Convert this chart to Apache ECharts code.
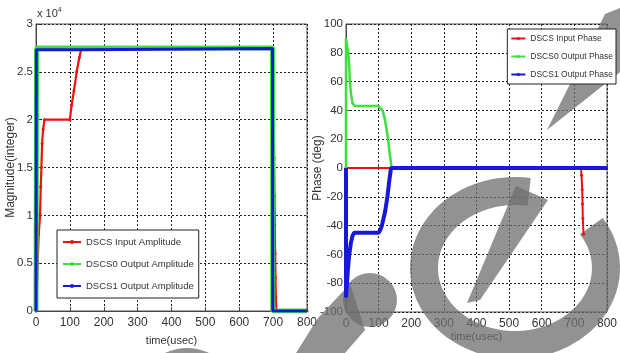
<!DOCTYPE html>
<html><head><meta charset="utf-8">
<script src="https://cdn.jsdelivr.net/npm/echarts@6/dist/echarts.min.js"></script>
<style>html,body{margin:0;padding:0;background:#fff}#c{width:620px;height:353px}</style>
</head><body><div id="c"></div>
<script>
// ---- data (time in usec) ----
const timeTicks = [0, 100, 200, 300, 400, 500, 600, 700, 800];
const ampSeriesNames = ['DSCS Input Amplitude', 'DSCS0 Output Amplitude', 'DSCS1 Output Amplitude'];
const phaseSeriesNames = ['DSCS Input Phase', 'DSCS0 Output Phase', 'DSCS1 Output Phase'];

const inputAmp = [[0,0],[2,1500],[5,5000],[8,8000],[12,10000],[14,13000],[16,15000],[18,17500],[21,19000],[25,20000],[100,20000],[105,21500],[112,23000],[120,25000],[128,26500],[134,27500],[700,27500],[702,19400],[703,16000],[704,12000],[705,9000],[706,6000],[707,3500],[708,1500],[710,0],[800,0]];
const dscs0Amp = [[0,0],[2,27500],[698,27500],[699,0],[800,0]];
const dscs1Amp = [[0,0],[1,27300],[140,27300],[142,27450],[698,27450],[699,0],[800,0]];

const inputPhase = [[0,0],[140,0],[720,0],[722,-5],[724,-15],[725,-25],[726,-35],[728,-46]];
const dscs0Phase = [[0,0],[0,90],[3,85],[7,80],[10,70],[12,60],[15,52],[20,45],[27,43],[100,43],[105,42],[112,40],[118,35],[122,30],[129,20],[134,10],[140,0],[800,0]];
const dscs1Phase = [[0,0],[0,-90],[3,-80],[6,-70],[10,-60],[15,-52],[20,-47],[25,-45],[100,-45],[105,-43],[110,-40],[115,-35],[120,-30],[127,-20],[132,-10],[138,0],[800,0]];

// ---- chart ----
const FF = "'Liberation Sans',Arial,sans-serif";
const RED = '#f01010', GREEN = '#3ee03e', BLUE = '#1818d8';
const WM = 'rgba(110,110,110,0.75)';
const chart = echarts.init(document.getElementById('c'), null, {renderer: 'canvas'});

// watermark ring outline (decorative, pixel space)
const ringPts = [];
for (let a = -33; a <= 280; a += 4) {
  const r = a * Math.PI / 180;
  ringPts.push([515 + 91 * Math.cos(r), 268 + 77 * Math.sin(r)]);
}

function xAxisCfg(gi, gap) {
  return {
    gridIndex: gi, type: 'value', min: 0, max: 800, interval: 100,
    name: 'time(usec)', nameLocation: 'middle', nameGap: gap, nameMoveOverlap: false,
    nameTextStyle: {fontFamily: FF, fontSize: 11, color: '#333'},
    axisLine: {show: true, lineStyle: {color: '#444', width: 1}},
    axisTick: {show: true, inside: true, length: 4, lineStyle: {color: '#444'}},
    axisLabel: {fontFamily: FF, fontSize: 12, color: '#333', margin: 6},
    splitLine: {show: true, lineStyle: {color: '#222', type: [2, 2], width: 1}}
  };
}
function yAxisCfg(gi, min, max, interval, name, gap, fmt) {
  return {
    gridIndex: gi, type: 'value', min: min, max: max, interval: interval,
    name: name, nameLocation: 'middle', nameGap: gap, nameMoveOverlap: false,
    nameTextStyle: {fontFamily: FF, fontSize: 12, color: '#333'},
    axisLine: {show: true, lineStyle: {color: '#444', width: 1}},
    axisTick: {show: true, inside: true, length: 4, lineStyle: {color: '#444'}},
    axisLabel: {fontFamily: FF, fontSize: 11.5, color: '#333', margin: 3, formatter: fmt},
    splitLine: {show: true, lineStyle: {color: '#222', type: [2, 2], width: 1}}
  };
}
const legendCommon = {
  orient: 'vertical', backgroundColor: '#fff', borderColor: '#222', borderWidth: 1,
  textStyle: {fontFamily: FF, color: '#333'}, z: 10
};

chart.setOption({
  animation: false,
  backgroundColor: '#fff',
  grid: [
    {left: 36, top: 24, width: 271, height: 287, show: true, borderColor: '#555', borderWidth: 1, backgroundColor: 'transparent'},
    {left: 346, top: 24, width: 271, height: 288, show: true, borderColor: '#555', borderWidth: 1, backgroundColor: 'transparent'}
  ],
  xAxis: [xAxisCfg(0, 24), xAxisCfg(1, 19)],
  yAxis: [
    yAxisCfg(0, 0, 30000, 5000, 'Magnitude(integer)', 19, v => String(v / 10000)),
    yAxisCfg(1, -100, 100, 20, 'Phase (deg)', 22, v => String(v))
  ],
  legend: [
    Object.assign({}, legendCommon, {left: 57, top: 230, padding: [7, 5], itemGap: 12, itemWidth: 18, itemHeight: 5,
      textStyle: {fontFamily: FF, fontSize: 9.5, color: '#333'}, data: ampSeriesNames}),
    Object.assign({}, legendCommon, {right: 4, top: 29, padding: [5, 3], itemGap: 9, itemWidth: 14, itemHeight: 4,
      textStyle: {fontFamily: FF, fontSize: 8.5, color: '#333'}, data: phaseSeriesNames})
  ],
  graphic: [
    {type: 'text', left: 37, top: 7, z: 10,
      style: {text: 'x 10{s|4}', fontFamily: FF, fontSize: 11, fill: '#333',
        rich: {s: {fontSize: 7, verticalAlign: 'top', padding: [0, 0, 6, 0], fill: '#333'}}}},
    // watermark (decorative logo over the picture)
    {type: 'polyline', z: 1, silent: true, shape: {points: ringPts},
      style: {fill: null, stroke: WM, lineWidth: 28}},
    {type: 'polygon', z: 1, silent: true,
      shape: {points: [[467, 303], [516, 186], [548, 200], [480, 300]]}, style: {fill: WM}},
    {type: 'polygon', z: 1, silent: true,
      shape: {points: [[605, 14], [620, 8], [620, 72], [547, 130]]}, style: {fill: WM}},
    {type: 'circle', z: 1, silent: true, shape: {cx: 370, cy: 300, r: 27}, style: {fill: WM}},
    {type: 'polygon', z: 1, silent: true,
      shape: {points: [[296, 353], [318, 318], [350, 284], [365, 330], [345, 353]]}, style: {fill: WM}},
    {type: 'circle', z: 1, silent: true, shape: {cx: 187, cy: 398, r: 50}, style: {fill: WM}}
  ],
  series: [
    {name: ampSeriesNames[0], type: 'line', xAxisIndex: 0, yAxisIndex: 0, data: inputAmp,
      color: RED, lineStyle: {width: 2.2}, symbol: 'circle', symbolSize: 3, z: 3},
    {name: ampSeriesNames[1], type: 'line', xAxisIndex: 0, yAxisIndex: 0, data: dscs0Amp,
      color: GREEN, lineStyle: {width: 5}, symbol: 'circle', symbolSize: 6, showSymbol: false, z: 4},
    {name: ampSeriesNames[2], type: 'line', xAxisIndex: 0, yAxisIndex: 0, data: dscs1Amp,
      color: BLUE, lineStyle: {width: 3}, symbol: 'circle', symbolSize: 3, showSymbol: false, z: 5},
    {name: phaseSeriesNames[0], type: 'line', xAxisIndex: 1, yAxisIndex: 1, data: inputPhase,
      color: RED, lineStyle: {width: 2}, symbol: 'circle', symbolSize: 3, z: 3},
    {name: phaseSeriesNames[1], type: 'line', xAxisIndex: 1, yAxisIndex: 1, data: dscs0Phase,
      color: GREEN, lineStyle: {width: 2.5}, symbol: 'circle', symbolSize: 3, showSymbol: false, z: 4},
    {name: phaseSeriesNames[2], type: 'line', xAxisIndex: 1, yAxisIndex: 1, data: dscs1Phase,
      color: BLUE, lineStyle: {width: 4}, symbol: 'circle', symbolSize: 3, showSymbol: false, z: 5}
  ]
});
</script>
</body></html>
